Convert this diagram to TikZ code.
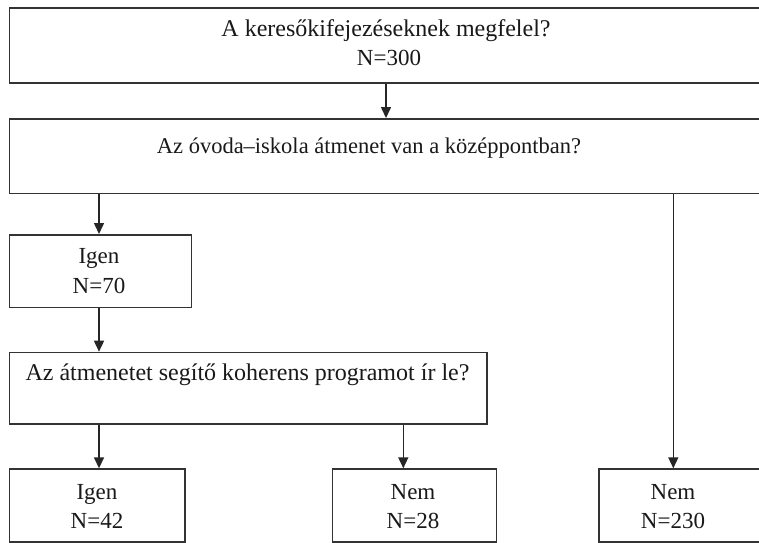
\documentclass[tikz,border=0pt]{standalone}
\usepackage{fontspec}
\setmainfont{Liberation Serif}
\usetikzlibrary{arrows.meta}
\begin{document}
\begin{tikzpicture}[x=1pt,y=-1pt,
  box/.style={draw=black!80, line width=1.7pt, inner sep=0pt, anchor=north west},
  lbl/.style={font=\fontsize{23}{29}\selectfont, inner sep=0pt, anchor=base, text=black!90},
  wide/.style={font=\fontsize{24}{29}\selectfont},
  narrow/.style={font=\fontsize{22.5}{29}\selectfont},
  arr/.style={line width=1.5pt, draw=black!85, -{Triangle[length=11pt,width=10pt]}}]
\clip (0,0) rectangle (759,542);
\fill[white] (0,0) rectangle (759,542);
% boxes
\node[box, minimum width=760pt, minimum height=74.7pt] (b1) at (8.7,7.3) {};
\node[box, minimum width=760pt, minimum height=74.5pt] (b2) at (8.7,118) {};
\node[box, minimum width=182pt, minimum height=72.7pt] (b3) at (8.7,234) {};
\node[box, minimum width=477.3pt, minimum height=71.6pt] (b4) at (8.7,351.7) {};
\node[box, minimum width=175.6pt, minimum height=72.7pt] (b5) at (8.7,468.3) {};
\node[box, minimum width=164pt, minimum height=72.7pt] (b6) at (331.7,468.3) {};
\node[box, minimum width=170pt, minimum height=72.7pt] (b7) at (598.3,468.3) {};
% texts
\node[lbl, wide] (t1a) at (386,36.7) {A keresőkifejezéseknek megfelel?};
\node[lbl] (t1b) at (389,65) {N=300};
\node[lbl, narrow] (t2) at (369,153) {Az óvoda–iskola átmenet van a középpontban?};
\node[lbl] (t3a) at (99,263) {Igen};
\node[lbl] (t3b) at (99,293) {N=70};
\node[lbl, wide] (t4) at (247.5,380) {Az átmenetet segítő koherens programot ír le?};
\node[lbl] (t5a) at (97,499) {Igen};
\node[lbl] (t5b) at (97,528) {N=42};
\node[lbl] (t6a) at (413,499) {Nem};
\node[lbl] (t6b) at (413,528) {N=28};
\node[lbl] (t7a) at (673,499) {Nem};
\node[lbl] (t7b) at (673,528) {N=230};
% arrows
\draw[arr] ([xshift=377.3pt]b1.south west) -- ([xshift=377.3pt]b2.north west);
\draw[arr] ([xshift=90.3pt]b2.south west) -- ([xshift=90.3pt]b3.north west);
\draw[arr] ([xshift=90.3pt]b3.south west) -- ([xshift=90.3pt]b4.north west);
\draw[arr] ([xshift=90.3pt]b4.south west) -- ([xshift=90.3pt]b5.north west);
\draw[arr] ([xshift=394.6pt]b4.south west) -- ([xshift=71.6pt]b6.north west);
\draw[arr] ([xshift=664.6pt]b2.south west) -- ([xshift=75pt]b7.north west);
\end{tikzpicture}
\end{document}
